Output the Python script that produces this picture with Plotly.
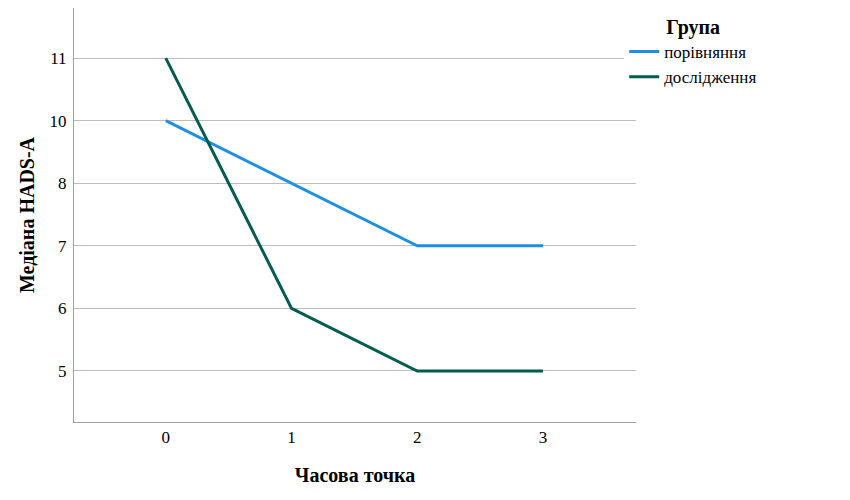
import plotly.graph_objects as go

# Median HADS-A by time point
time_points = [0, 1, 2, 3]
comparison = ["10", "8", "7", "7"]      # порівняння
study = ["11", "6", "5", "5"]           # дослідження
y_categories = ["5", "6", "7", "8", "10", "11"]

font_family = "Liberation Serif"

fig = go.Figure()

fig.add_trace(go.Scatter(x=time_points, y=comparison,
                         mode='lines',
                         name='порівняння',
                         line=dict(color='#1E8FE1', width=3)))
fig.add_trace(go.Scatter(x=time_points, y=study,
                         mode='lines',
                         name='дослідження',
                         line=dict(color='#005B51', width=3)))

# page has an 8px body margin, so the figure is a bit smaller than the window
fig.update_layout(
    autosize=False,
    width=842,
    height=492,
    margin=dict(l=66, r=214, t=0, b=78),
    plot_bgcolor='white',
    paper_bgcolor='white',
    font=dict(family=font_family, size=17, color='black'),
    legend=dict(
        title=dict(text='<b>Група</b>', font=dict(family=font_family, size=20),
                   side='top center'),
        x=0.979, y=1.0, xanchor='left', yanchor='top',
        font=dict(family=font_family, size=17),
        tracegroupgap=0,
        itemwidth=30,
    ),
)

fig.update_xaxes(
    range=[-0.73, 3.74],
    tickvals=time_points,
    tickfont=dict(family=font_family, size=17),
    showgrid=False,
    zeroline=False,
    showline=True, linecolor='#a0a0a0', linewidth=1,
    title=dict(text='<b>Часова точка</b>', font=dict(family=font_family, size=20),
               standoff=21),
)
fig.update_yaxes(
    type='category',
    categoryorder='array',
    categoryarray=y_categories,
    range=[-0.815, 5.8],
    tickfont=dict(family=font_family, size=17),
    showgrid=True, gridcolor='#bdbdbd', gridwidth=1,
    zeroline=False,
    showline=True, linecolor='#a0a0a0', linewidth=1,
    ticklabelstandoff=3,
    title=dict(text='<b>Медіана HADS-A</b>', font=dict(family=font_family, size=20),
               standoff=9),
)

fig.write_html("out.html")
